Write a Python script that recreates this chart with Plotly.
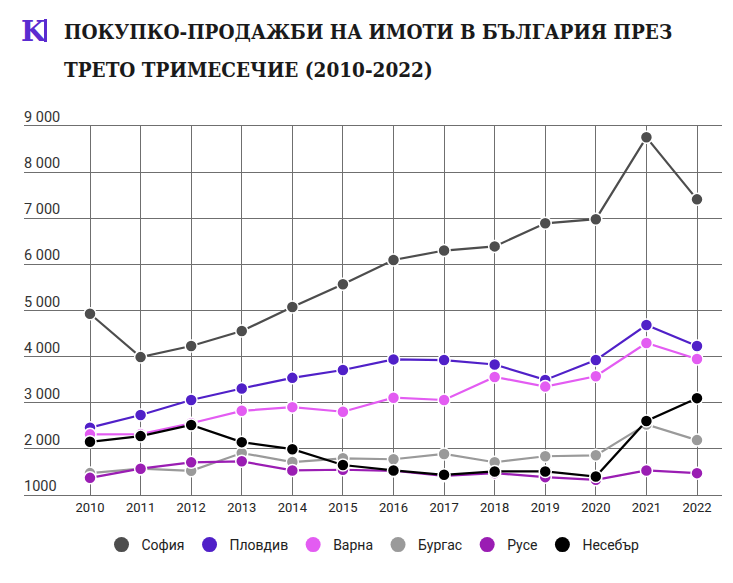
import plotly.graph_objects as go

years = list(range(2010, 2023))
sofia   = [4930, 3990, 4230, 4555, 5075, 5570, 6095, 6300, 6390, 6890, 6980, 8755, 7410]
plovdiv = [2460, 2735, 3060, 3310, 3540, 3710, 3940, 3925, 3830, 3495, 3925, 4685, 4230]
varna   = [2315, 2320, 2555, 2825, 2905, 2805, 3110, 3060, 3560, 3350, 3575, 4295, 3950]
burgas  = [1475, 1570, 1525, 1910, 1715, 1795, 1775, 1890, 1710, 1840, 1860, 2530, 2190]
ruse    = [1372, 1570, 1708, 1730, 1533, 1547, 1525, 1416, 1474, 1387, 1328, 1533, 1474]
nesebar = [2153, 2277, 2518, 2146, 1993, 1650, 1533, 1438, 1511, 1511, 1401, 2606, 3100]

series_names = ["София", "Пловдив", "Варна", "Бургас", "Русе", "Несебър"]
series_vals = [sofia, plovdiv, varna, burgas, ruse, nesebar]
colors = ["#4d4d4d", "#5020c8", "#e35cf2", "#9a9a9a", "#9a1db3", "#000000"]

y_ticks = [1000, 2000, 3000, 4000, 5000, 6000, 7000, 8000, 9000]
y_labels = ["1000", "2 000", "3 000", "4 000", "5 000", "6 000", "7 000", "8 000", "9 000"]

W, H = 733, 583
L, R, T, B = 24, 11, 126, 88
PW, PH = W - L - R, H - T - B

def px2x(px):
    return (px - L) / PW

def py2y(py):
    return (H - B - py) / PH

fig = go.Figure()
for name, vals, c in zip(series_names, series_vals, colors):
    fig.add_trace(go.Scatter(
        x=years, y=vals, name=name, mode="lines+markers", showlegend=False,
        line=dict(color=c, width=2.2),
        marker=dict(color=c, size=12, line=dict(color="white", width=1.5)),
    ))
for name, c in zip(series_names, colors):
    fig.add_trace(go.Scatter(
        x=[None], y=[None], name=name, mode="markers", showlegend=True,
        marker=dict(color=c, size=15),
    ))

grid = "#6f6f6f"
fig.update_layout(
    width=W, height=H,
    margin=dict(l=L, r=R, t=T, b=B),
    paper_bgcolor="white", plot_bgcolor="white",
    showlegend=True,
    legend=dict(orientation="h", x=0.5, xanchor="center", y=py2y(545), yanchor="middle",
                font=dict(family="Roboto", size=14, color="#222"), itemwidth=30,
                traceorder="normal"),
    xaxis=dict(range=[2010 - 66 / 50.58, 2022 + 25 / 50.58], tickvals=years,
               ticktext=[str(y) for y in years], showgrid=True, gridcolor=grid, gridwidth=1,
               zeroline=False, showline=True, linecolor=grid, linewidth=1, mirror=True,
               ticks="", tickfont=dict(family="Roboto", size=13, color="#222")),
    yaxis=dict(range=[1000, 9000], tickvals=y_ticks, showticklabels=False,
               showgrid=True, gridcolor=grid, gridwidth=1, zeroline=False, ticks=""),
    font=dict(family="Roboto"),
)

for v, lab in zip(y_ticks, y_labels):
    fig.add_annotation(x=0, y=v, xref="paper", yref="y", xanchor="left", yanchor="bottom",
                       text=lab, showarrow=False, xshift=-2, yshift=-2,
                       font=dict(family="Roboto", size=14.5, color="#333"))

title_font = dict(family="DejaVu Serif Condensed", size=20.5, color="#1a1a1a")
fig.add_annotation(x=px2x(62), y=py2y(32), xref="paper", yref="paper", xanchor="left", yanchor="middle",
                   text="<b>ПОКУПКО-ПРОДАЖБИ НА ИМОТИ В БЪЛГАРИЯ ПРЕЗ</b>", showarrow=False,
                   font=title_font)
fig.add_annotation(x=px2x(62), y=py2y(70), xref="paper", yref="paper", xanchor="left", yanchor="middle",
                   text="<b>ТРЕТО ТРИМЕСЕЧИЕ (2010-2022)</b>", showarrow=False,
                   font=title_font)
fig.add_annotation(x=px2x(19), y=py2y(31), xref="paper", yref="paper", xanchor="left", yanchor="middle",
                   text="<b>K</b>", showarrow=False,
                   font=dict(family="DejaVu Serif", size=28, weight=900, color="#5a2bd0"))
fig.add_shape(type="rect", xref="paper", yref="paper", x0=px2x(44), x1=px2x(47),
              y0=py2y(42), y1=py2y(19), fillcolor="#5a2bd0", line=dict(width=0))

fig.write_html("out.html")
